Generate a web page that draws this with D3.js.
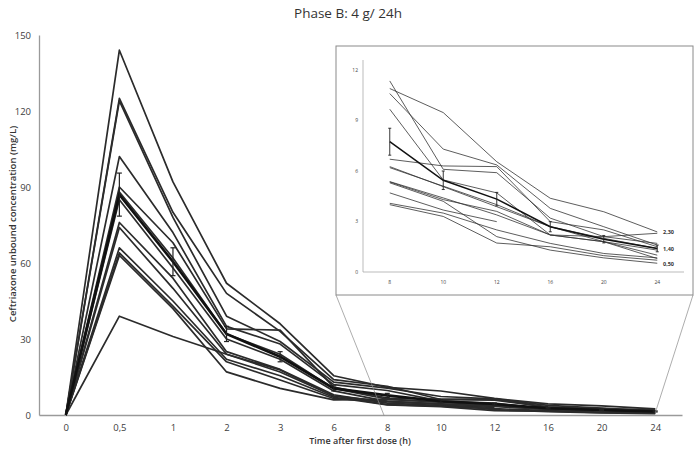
<!DOCTYPE html>
<html>
<head>
<meta charset="utf-8">
<script src="https://cdn.jsdelivr.net/npm/d3@7"></script>
<style>
  body { margin: 0; background: #fff; }
  text { font-family: "Open Sans", "Liberation Sans", sans-serif; }
</style>
</head>
<body>
<div id="chart-container"></div>
<script>
// Sampling times (h) on the main axis and in the zoomed inset
const times = ["0", "0,5", "1", "2", "3", "6", "8", "10", "12", "16", "20", "24"];
const insetTimes = ["8", "10", "12", "16", "20", "24"];

// Unbound ceftriaxone per patient (mg/L), one value per time
const p01 = [0, 144, 92, 52, 36, 15.5, 10.9, 9.47, 6.55, 4.38, 3.58, 2.38];
const p02 = [0, 125, 80, 48, 33, 14, 11.35, 6.1, 5.9, 3.2, 2.1, 1.7];
const p03 = [0, 124, 78, 39, 29, 13, 10.6, 7.3, 6.36, 3.78, 2.69, 1.6];
const p04 = [0, 102, 72, 35, 28, 12, 9.67, 5.47, 4.7, 2.2, 2.1, 2.3];
const p05 = [0, 90, 68, 34, 33.5, 11, 6.7, 6.3, 6.26, 2.99, 2.5, 1.5];
const p06 = [0, 88, 62, 32, 24, 10.5, 6.26, 5.07, 3.88, 2.69, 1.8, 1.3];
const p07 = [0, 85, 58, 30, 22, 9.5, 5.37, 4.4, 3.39, 2.2, 1.8, 1.0];
const p08 = [0, 76, 54, 25, 18, 8, 4.7, 3.68, 2.99, null, null, null];
const p09 = [0, 74, 50, 24, 17, 7.5, 4.08, 3.5, 2.5, 1.7, 1.1, 0.84];
const p10 = [0, 66, 45, 22, 15.5, 7, 4.0, 3.3, 1.72, 1.5, 0.97, 0.7];
const p11 = [0, 64, 43, 21, 13.8, 6.5, 5.3, 4.2, 2.1, 1.3, 0.84, 0.52];
const p12 = [0, 63, 42, 17, 10.5, 6, 6.2, 5.1, 4.0, 2.69, 2.0, 1.4];
const p13 = [0, 39, 31, 24, 17.8, 7.5, 5.35, 4.3, 3.6, 2.2, 1.8, 0.8];
const patients = [p01, p02, p03, p04, p05, p06, p07, p08, p09, p10, p11, p12, p13];

// Mean curve and its error bar half-width
const meanConc = [0, 87, 60.5, 32, 23, 10.5, 7.74, 5.45, 4.33, 2.69, 1.95, 1.4];
const meanErr = [0, 8.5, 5.5, 3, 2, 1, 0.8, 0.55, 0.4, 0.3, 0.22, 0.2];

// Tick values and end labels of the inset
const mainYTicks = [0, 30, 60, 90, 120, 150];
const insetYTicks = [0, 3, 6, 9, 12];
const insetEndValues = [2.38, 1.37, 0.47];
const insetEndLabels = ["2,30", "1,40", "0,50"];

const W = 696, H = 450;
const svg = d3.select("#chart-container").append("svg")
  .attr("width", W).attr("height", H);

// Title
svg.append("text")
  .attr("x", 348).attr("y", 18)
  .attr("text-anchor", "middle")
  .style("font-size", "13.5px")
  .attr("fill", "#333")
  .text("Phase B: 4 g/ 24h");

// Main scales
const x = d3.scalePoint().domain(times).range([39, 682]).padding(0.5);
const y = d3.scaleLinear().domain([0, 150]).range([415, 35]);

// Axes
const xAxis = svg.append("g")
  .attr("transform", "translate(0,415)")
  .call(d3.axisBottom(x).tickSize(0).tickSizeOuter(0).tickPadding(9));
const yAxis = svg.append("g")
  .attr("transform", "translate(39,0)")
  .call(d3.axisLeft(y).tickValues(mainYTicks).tickSize(0).tickSizeOuter(0).tickPadding(8));
[xAxis, yAxis].forEach(g => {
  g.select(".domain").attr("stroke", "#9a9a9a").attr("stroke-width", 1.3);
  g.selectAll("text").style("font-size", "9.5px").attr("fill", "#404040")
    .style("font-family", "'Open Sans', sans-serif");
});

// Axis titles
svg.append("text")
  .attr("x", 360).attr("y", 444)
  .attr("text-anchor", "middle")
  .style("font-size", "9px").style("font-weight", 600)
  .attr("fill", "#333")
  .text("Time after first dose (h)");
svg.append("text")
  .attr("transform", "translate(16,224) rotate(-90)")
  .attr("text-anchor", "middle")
  .style("font-size", "9.5px").style("font-weight", 600)
  .attr("fill", "#333")
  .text("Ceftriaxone unbound concentration (mg/L)");

// Patient lines
const line = d3.line()
  .defined(d => d.v != null)
  .x(d => x(d.t))
  .y(d => y(d.v));
patients.forEach(p => {
  svg.append("path")
    .datum(p.map((v, i) => ({ t: times[i], v })))
    .attr("d", line)
    .attr("fill", "none")
    .attr("stroke", "#2b2b2b")
    .attr("stroke-width", 1.7)
    .attr("stroke-linejoin", "round");
});

// Mean line with error bars
svg.append("path")
  .datum(meanConc.map((v, i) => ({ t: times[i], v })))
  .attr("d", line)
  .attr("fill", "none")
  .attr("stroke", "#111")
  .attr("stroke-width", 2.6);
function drawErrorBars(g, xs, ys, ts, cap, width) {
  ts.forEach((t, i) => {
    const m = meanConc[times.indexOf(t)], e = meanErr[times.indexOf(t)];
    if (!e) return;
    const cx = xs(t), y0 = ys(m - e), y1 = ys(m + e);
    g.append("line").attr("x1", cx).attr("x2", cx).attr("y1", y0).attr("y2", y1);
    g.append("line").attr("x1", cx - cap).attr("x2", cx + cap).attr("y1", y0).attr("y2", y0);
    g.append("line").attr("x1", cx - cap).attr("x2", cx + cap).attr("y1", y1).attr("y2", y1);
  });
  g.attr("stroke", "#222").attr("stroke-width", width);
}
drawErrorBars(svg.append("g"), x, y, times, 2.5, 1.2);

// Zoom connectors from inset to main axis
const ix0 = 336, iy0 = 46, ix1 = 693, iy1 = 295;
svg.append("line")
  .attr("x1", ix0).attr("y1", iy1).attr("x2", x("8") - 3).attr("y2", 416)
  .attr("stroke", "#8a8a8a").attr("stroke-width", 0.7);
svg.append("line")
  .attr("x1", ix1).attr("y1", iy1).attr("x2", x("24")).attr("y2", 413)
  .attr("stroke", "#8a8a8a").attr("stroke-width", 0.7);

// Inset panel
const inset = svg.append("g");
inset.append("rect")
  .attr("x", ix0).attr("y", iy0)
  .attr("width", ix1 - ix0).attr("height", iy1 - iy0)
  .attr("fill", "#fff").attr("stroke", "#8a8a8a").attr("stroke-width", 1);

const xi = d3.scalePoint().domain(insetTimes).range([363, 684]).padding(0.5);
const yi = d3.scaleLinear().domain([0, 12]).range([272, 70]);

inset.append("line").attr("x1", 363).attr("x2", 363).attr("y1", 60).attr("y2", 272)
  .attr("stroke", "#aaa").attr("stroke-width", 0.8);
inset.append("line").attr("x1", 363).attr("x2", 684).attr("y1", 272).attr("y2", 272)
  .attr("stroke", "#aaa").attr("stroke-width", 0.8);
inset.selectAll(".yt").data(insetYTicks).enter().append("text")
  .attr("x", 358).attr("y", d => yi(d)).attr("dy", "0.35em")
  .attr("text-anchor", "end")
  .style("font-size", "5px").attr("fill", "#444")
  .text(d => d);
inset.selectAll(".xt").data(insetTimes).enter().append("text")
  .attr("x", d => xi(d)).attr("y", 284)
  .attr("text-anchor", "middle")
  .style("font-size", "5px").attr("fill", "#444")
  .text(d => d);

const off = times.indexOf("8");
const iline = d3.line()
  .defined(d => d.v != null)
  .x(d => xi(d.t))
  .y(d => yi(d.v));
patients.forEach(p => {
  inset.append("path")
    .datum(p.slice(off).map((v, i) => ({ t: insetTimes[i], v })))
    .attr("d", iline)
    .attr("fill", "none")
    .attr("stroke", "#333")
    .attr("stroke-width", 0.8);
});
inset.append("path")
  .datum(meanConc.slice(off).map((v, i) => ({ t: insetTimes[i], v })))
  .attr("d", iline)
  .attr("fill", "none")
  .attr("stroke", "#111")
  .attr("stroke-width", 1.5);
drawErrorBars(inset.append("g"), xi, yi, insetTimes, 1.5, 0.9);

inset.selectAll(".endlab").data(insetEndValues).enter().append("text")
  .attr("x", 663).attr("y", d => yi(d)).attr("dy", "0.35em")
  .style("font-size", "5.5px").style("font-weight", 700).attr("fill", "#333")
  .text((d, i) => insetEndLabels[i]);
</script>
</body>
</html>
